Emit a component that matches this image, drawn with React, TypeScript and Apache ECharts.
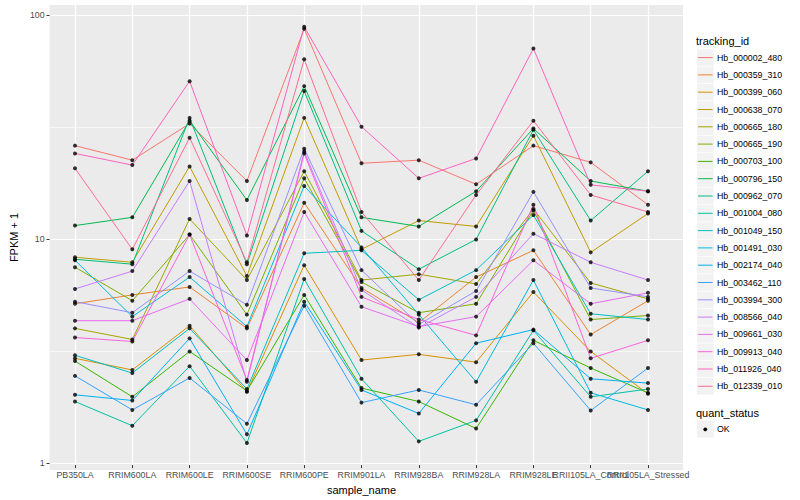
import React, { useEffect, useRef } from "react";
import * as echarts from "echarts";

const FONT = "'Liberation Sans', Arial, Helvetica, sans-serif";

const CATEGORIES = [
  "PB350LA", "RRIM600LA", "RRIM600LE", "RRIM600SE", "RRIM600PE", "RRIM901LA",
  "RRIM928BA", "RRIM928LA", "RRIM928LE", "RRII105LA_Control", "RRII105LA_Stressed",
];

const TRACKING_IDS = [
  "Hb_000002_480", "Hb_000359_310", "Hb_000399_060", "Hb_000638_070", "Hb_000665_180",
  "Hb_000665_190", "Hb_000703_100", "Hb_000796_150", "Hb_000962_070", "Hb_001004_080",
  "Hb_001049_150", "Hb_001491_030", "Hb_002174_040", "Hb_003462_110", "Hb_003994_300",
  "Hb_008566_040", "Hb_009661_030", "Hb_009913_040", "Hb_011926_040", "Hb_012339_010",
];

const COLORS = [
  "#F8766D", "#EA8331", "#D89000", "#C09B00", "#A3A500", "#7CAE00", "#39B600", "#00BB4E",
  "#00BF7D", "#00C1A3", "#00BFC4", "#00BAE0", "#00B0F6", "#35A2FF", "#9590FF", "#C77CFF",
  "#E76BF3", "#FA62DB", "#FF62BC", "#FF6C91",
];

// FPKM + 1 per sample, in CATEGORIES order
const hb000002_480 = [25.7, 22.1, 32.3, 17.8, 86.6, 21.4, 22.1, 17.2, 25.7, 21.6, 13.9];
const hb000359_310 = [4.97, 5.45, 5.92, 3.85, 14.2, 5.86, 4.09, 6.56, 8.66, 3.61, 5.13];
const hb000399_060 = [2.82, 2.5, 3.96, 1.99, 7.42, 2.77, 2.94, 2.71, 5.62, 3.03, 1.95];
const hb000638_070 = [8.06, 7.65, 20.7, 6.63, 34.3, 8.75, 11.8, 11.1, 28.5, 8.48, 12.7];
const hb000665_180 = [3.85, 3.43, 12.0, 6.36, 19.7, 6.36, 6.76, 6.11, 13.3, 6.17, 5.23];
const hb000665_190 = [7.27, 5.13, 10.2, 4.44, 18.3, 6.23, 4.53, 4.97, 13.1, 4.22, 4.4];
const hb000703_100 = [2.74, 1.89, 3.03, 2.01, 5.45, 2.07, 1.8, 1.36, 3.4, 2.55, 1.97];
const hb000796_150 = [11.2, 12.2, 33.3, 14.6, 47.7, 12.2, 11.1, 16.0, 30.7, 17.8, 16.0];
const hb000962_070 = [7.89, 7.5, 34.3, 7.5, 45.3, 10.6, 7.12, 9.7, 30.3, 11.8, 19.7];
const hb001004_080 = [1.8, 1.4, 2.6, 1.17, 6.43, 2.28, 1.19, 1.48, 3.77, 1.89, 2.05];
const hb001049_150 = [2.91, 2.42, 3.85, 2.05, 8.4, 8.66, 5.18, 7.05, 12.5, 4.48, 4.22];
const hb001491_030 = [7.81, 4.35, 6.56, 3.92, 16.9, 8.93, 4.44, 2.21, 6.36, 1.97, 1.65];
const hb002174_040 = [1.93, 1.82, 3.47, 1.28, 5.08, 2.03, 1.59, 3.3, 3.8, 2.28, 2.18];
const hb003462_110 = [2.35, 1.65, 2.3, 1.43, 4.87, 1.78, 2.03, 1.74, 3.3, 1.64, 2.55];
const hb003994_300 = [5.08, 4.53, 6.98, 4.92, 24.9, 7.05, 4.01, 5.68, 15.9, 5.86, 5.34];
const hb008566_040 = [5.8, 6.98, 17.8, 2.21, 24.2, 5.74, 3.88, 5.34, 10.3, 7.65, 6.36];
const hb009661_030 = [4.17, 4.17, 5.23, 2.77, 12.9, 4.82, 3.92, 4.35, 7.81, 4.97, 5.57];
const hb009913_040 = [3.5, 3.36, 10.2, 2.25, 23.7, 5.34, 4.22, 3.58, 13.9, 2.82, 3.4];
const hb011926_040 = [23.7, 21.0, 50.2, 10.1, 88.4, 31.3, 18.3, 22.5, 70.5, 17.1, 16.0];
const hb012339_010 = [20.3, 8.75, 27.9, 7.65, 63.0, 12.9, 6.36, 15.4, 33.3, 15.4, 12.9];

const SERIES_VALUES = [
  hb000002_480, hb000359_310, hb000399_060, hb000638_070, hb000665_180,
  hb000665_190, hb000703_100, hb000796_150, hb000962_070, hb001004_080,
  hb001049_150, hb001491_030, hb002174_040, hb003462_110, hb003994_300,
  hb008566_040, hb009661_030, hb009913_040, hb011926_040, hb012339_010,
];

const Y_TICKS = [1, 10, 100];
const Y_MINOR = [3.1623, 31.623];
const Y_MIN = 0.93;
const Y_MAX = 110.8;

function buildLegend() {
  const children: any[] = [];
  const x0 = 697;
  const top0 = 49.3;
  const step = 17.3;
  children.push({
    type: "text", x: 696, y: 40.5,
    style: { text: "tracking_id", fill: "#000", fontSize: 11, fontFamily: FONT, verticalAlign: "middle", align: "left" },
  });
  TRACKING_IDS.forEach((id, i) => {
    const top = top0 + i * step;
    const cy = top + 8.3;
    children.push({ type: "rect", shape: { x: x0, y: top, width: 16.6, height: 16.6 }, style: { fill: "#F2F2F2" } });
    children.push({ type: "line", shape: { x1: x0 + 1, y1: cy, x2: x0 + 15.6, y2: cy }, style: { stroke: COLORS[i], lineWidth: 1 } });
    children.push({
      type: "text", x: 717, y: cy,
      style: { text: id, fill: "#000", fontSize: 8.8, fontFamily: FONT, verticalAlign: "middle", align: "left" },
    });
  });
  children.push({
    type: "text", x: 696, y: 412.7,
    style: { text: "quant_status", fill: "#000", fontSize: 11, fontFamily: FONT, verticalAlign: "middle", align: "left" },
  });
  children.push({ type: "rect", shape: { x: x0, y: 421, width: 16.6, height: 16.6 }, style: { fill: "#F2F2F2" } });
  children.push({ type: "circle", shape: { cx: x0 + 8.3, cy: 429.3, r: 1.9 }, style: { fill: "#000" } });
  children.push({
    type: "text", x: 717, y: 429.3,
    style: { text: "OK", fill: "#000", fontSize: 8.8, fontFamily: FONT, verticalAlign: "middle", align: "left" },
  });
  return children;
}

export default function App() {
  const ref = useRef<HTMLDivElement>(null);

  useEffect(() => {
    if (!ref.current) return;
    const chart = echarts.init(ref.current, undefined, { renderer: "svg" });

    const lineSeries = SERIES_VALUES.map((vals, i) => ({
      name: TRACKING_IDS[i],
      type: "line",
      xAxisIndex: 1,
      yAxisIndex: 2,
      data: vals,
      showSymbol: false,
      symbol: "none",
      silent: true,
      z: 2,
      lineStyle: { color: COLORS[i], width: 1 },
      itemStyle: { color: COLORS[i] },
    }));

    const points: any[] = [];
    SERIES_VALUES.forEach((vals) => {
      vals.forEach((v, j) => points.push([j, v]));
    });

    const option: any = {
      animation: false,
      backgroundColor: "#FFFFFF",
      textStyle: { fontFamily: FONT },
      grid: [
        { left: 40, right: 117, top: 5, bottom: 30, show: true, backgroundColor: "#EBEBEB", borderWidth: 0 },
        { left: 75, right: 152, top: 5, bottom: 30, show: false },
      ],
      xAxis: [
        { gridIndex: 0, type: "value", min: 0, max: 1, show: false },
        {
          gridIndex: 1,
          type: "category",
          boundaryGap: false,
          data: CATEGORIES,
          name: "sample_name",
          nameLocation: "middle",
          nameGap: 13,
          nameTextStyle: { color: "#000", fontSize: 11, fontFamily: FONT },
          axisLine: { show: false },
          axisTick: { show: true, length: 3, lineStyle: { color: "#333333", width: 1 } },
          axisLabel: { interval: 0, color: "#4D4D4D", fontSize: 8.8, margin: 5, hideOverlap: false, fontFamily: FONT },
          splitLine: { show: true, lineStyle: { color: "#FFFFFF", width: 1.2 } },
        },
      ],
      yAxis: [
        {
          gridIndex: 0,
          type: "log",
          logBase: 10,
          min: Y_MIN,
          max: Y_MAX,
          name: "FPKM + 1",
          nameLocation: "middle",
          nameGap: 22,
          nameTextStyle: { color: "#000", fontSize: 11, fontFamily: FONT },
          axisLine: { show: false },
          axisTick: { show: true, length: 3, lineStyle: { color: "#333333", width: 1 }, customValues: Y_TICKS },
          axisLabel: { color: "#4D4D4D", fontSize: 8.8, margin: 5, customValues: Y_TICKS, fontFamily: FONT },
          splitLine: { show: true, lineStyle: { color: "#FFFFFF", width: 1.2 } },
        },
        {
          gridIndex: 0,
          type: "log",
          logBase: 10,
          min: Y_MIN,
          max: Y_MAX,
          axisLine: { show: false },
          axisTick: { show: false, customValues: Y_MINOR },
          axisLabel: { show: false, customValues: Y_MINOR },
          splitLine: { show: true, lineStyle: { color: "#FFFFFF", width: 0.6 } },
        },
        { gridIndex: 1, type: "log", logBase: 10, min: Y_MIN, max: Y_MAX, show: false },
      ],
      graphic: buildLegend(),
      series: [
        ...lineSeries,
        {
          name: "OK",
          type: "scatter",
          xAxisIndex: 1,
          yAxisIndex: 2,
          data: points,
          symbol: "circle",
          symbolSize: 4,
          silent: true,
          z: 5,
          itemStyle: { color: "#000000" },
        },
      ],
    };

    chart.setOption(option);
    return () => chart.dispose();
  }, []);

  return (
    <div
      ref={ref}
      style={{ position: "fixed", left: 0, top: 0, width: 800, height: 500, background: "#fff" }}
    />
  );
}
